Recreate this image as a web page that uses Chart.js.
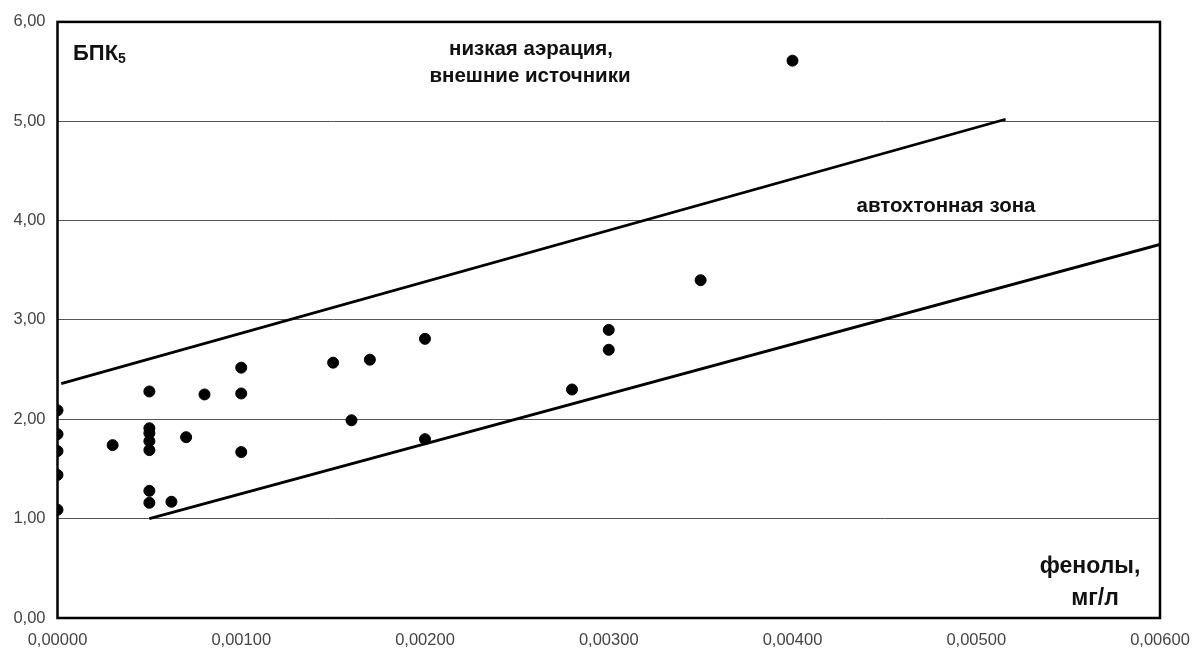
<!DOCTYPE html>
<html>
<head>
<meta charset="utf-8">
<script src="https://cdn.jsdelivr.net/npm/chart.js@4/dist/chart.umd.min.js"></script>
<style>
  html, body { margin: 0; padding: 0; background: #fff; }
  #wrap { width: 1201px; height: 653px; }
</style>
</head>
<body>
<div id="wrap"><canvas id="c" width="1201" height="653"></canvas></div>
<script>
// phenols, mg/l  vs  BOD5
const phenolX = [
  0, 0, 0, 0, 0,
  0.0003,
  0.0005, 0.0005, 0.0005, 0.0005, 0.0005, 0.0005, 0.0005,
  0.00062, 0.0007, 0.0008,
  0.001, 0.001, 0.001,
  0.0015, 0.0016, 0.0017,
  0.002, 0.002,
  0.0028, 0.003, 0.003,
  0.0035, 0.004
];
const bpkY = [
  2.09, 1.85, 1.68, 1.44, 1.09,
  1.74,
  2.28, 1.91, 1.86, 1.78, 1.69, 1.28, 1.16,
  1.17, 1.82, 2.25,
  2.52, 2.26, 1.67,
  2.57, 1.99, 2.60,
  2.81, 1.80,
  2.30, 2.90, 2.70,
  3.40, 5.61
];

// boundary lines
const upperX = [0.00002, 0.00516];
const upperY = [2.36, 5.02];
const lowerX = [0.0005, 0.006];
const lowerY = [1.0, 3.76];

const xTicks = [0, 0.001, 0.002, 0.003, 0.004, 0.005, 0.006];

const toPts = (xs, ys) => xs.map((x, i) => ({ x: x, y: ys[i] }));
const font = 'Liberation Sans, Arial, sans-serif';

const textPlugin = {
  id: 'texts',
  afterDraw(chart) {
    const ctx = chart.ctx;
    const a = chart.chartArea;
    ctx.save();
    // frame
    ctx.strokeStyle = '#000';
    ctx.lineWidth = 2.5;
    ctx.strokeRect(a.left, a.top, a.right - a.left, a.bottom - a.top);

    ctx.fillStyle = '#111';
    ctx.textBaseline = 'middle';
    // БПК5
    ctx.textAlign = 'left';
    ctx.font = 'bold 22px ' + font;
    ctx.fillText('БПК', 73, 54);
    const w = ctx.measureText('БПК').width;
    ctx.font = 'bold 14px ' + font;
    ctx.fillText('5', 73 + w, 59);

    ctx.font = 'bold 20.5px ' + font;
    ctx.textAlign = 'center';
    ctx.fillText('низкая аэрация,', 531, 49);
    ctx.fillText('внешние источники', 530, 76);

    // label with white box over the gridline
    const t = 'автохтонная зона';
    const tw = ctx.measureText(t).width;
    ctx.fillStyle = '#fff';
    ctx.fillRect(946 - tw / 2 - 8, 194, tw + 16, 26);
    ctx.fillStyle = '#111';
    ctx.fillText(t, 946, 206);

    ctx.font = 'bold 23px ' + font;
    ctx.fillText('фенолы,', 1090, 567);
    ctx.fillText('мг/л', 1095, 599);
    ctx.restore();
  }
};

new Chart(document.getElementById('c'), {
  type: 'scatter',
  data: {
    datasets: [
      {
        label: 'БПК5',
        data: toPts(phenolX, bpkY),
        backgroundColor: '#000',
        borderColor: '#000',
        pointRadius: 5.5,
        pointHoverRadius: 5.5
      },
      {
        type: 'line',
        label: 'upper',
        data: toPts(upperX, upperY),
        borderColor: '#000',
        borderWidth: 2.8,
        pointRadius: 0,
        fill: false
      },
      {
        type: 'line',
        label: 'lower',
        data: toPts(lowerX, lowerY),
        borderColor: '#000',
        borderWidth: 2.8,
        pointRadius: 0,
        fill: false
      }
    ]
  },
  options: {
    responsive: false,
    animation: false,
    layout: { padding: { left: 0, right: 41, top: 20, bottom: 0 } },
    plugins: {
      legend: { display: false },
      tooltip: { enabled: false }
    },
    scales: {
      x: {
        type: 'linear',
        min: 0,
        max: 0.006,
        afterBuildTicks(scale) {
          scale.ticks = xTicks.map(v => ({ value: v }));
        },
        afterFit(scale) {
          scale.height = 35;
          scale.paddingLeft = 0;
          scale.paddingRight = 0;
        },
        grid: { display: false, drawTicks: false },
        border: { display: false },
        ticks: {
          padding: 13,
          color: '#444',
          font: { family: font, size: 16.5 },
          maxRotation: 0,
          callback: v => v.toFixed(5).replace('.', ',')
        }
      },
      y: {
        min: 0,
        max: 6,
        afterFit(scale) { scale.width = 57.5; },
        grid: { color: '#555', lineWidth: 1, drawTicks: false },
        border: { display: false },
        ticks: {
          stepSize: 1,
          padding: 12,
          color: '#444',
          font: { family: font, size: 16.5 },
          callback: v => v.toFixed(2).replace('.', ',')
        }
      }
    }
  },
  plugins: [textPlugin]
});
</script>
</body>
</html>
